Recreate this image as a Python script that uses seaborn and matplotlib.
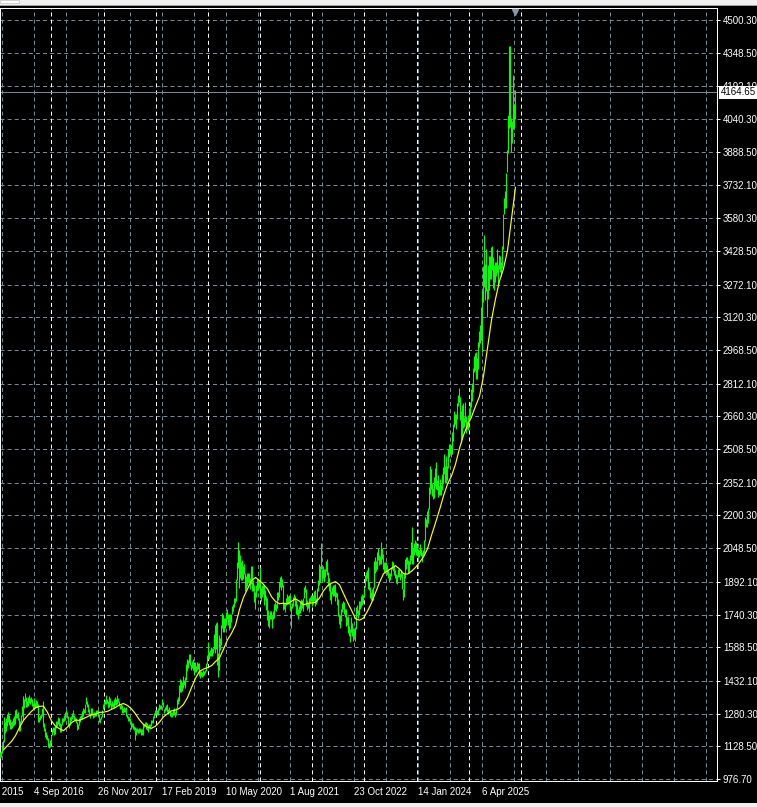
import numpy as np
import pandas as pd
import matplotlib
matplotlib.use("Agg")
import matplotlib.pyplot as plt
import matplotlib.transforms as mtransforms
from matplotlib.patches import Rectangle
import seaborn as sns

# ---------------- data (weekly bars) ----------------
first_week = "2016-01-10"

low_2016 = [1072,1080,1097,1111,1150,1191,1200,1225,1240,1227,1208,1208,1212,1225,1227,1230,1260,1260,1250,1200,1200,1240,1270,1250,1305,1340,1310,1310,1315,1330,1323,1335,1316,1302,1310,1305,1310,1310,1241,1241,1250,1260,1270,1220,1200,1172,1164,1157,1124,1122,1125]
high_2016 = [1100,1105,1128,1160,1263,1240,1260,1280,1287,1272,1255,1243,1245,1262,1270,1296,1303,1280,1286,1260,1245,1276,1315,1362,1350,1375,1357,1340,1357,1367,1355,1358,1347,1330,1352,1330,1343,1340,1325,1265,1275,1280,1308,1338,1235,1215,1195,1182,1165,1143,1160]
low_2017 = [1146,1180,1195,1180,1187,1215,1225,1230,1225,1194,1195,1226,1241,1244,1250,1277,1262,1226,1214,1226,1245,1256,1264,1250,1245,1238,1205,1208,1227,1242,1256,1255,1269,1281,1283,1323,1313,1287,1275,1260,1272,1276,1260,1263,1268,1270,1278,1271,1241,1236,1255,1264,1300]
high_2017 = [1180,1207,1220,1220,1225,1245,1245,1264,1262,1235,1233,1261,1260,1274,1289,1295,1290,1267,1236,1264,1271,1282,1296,1275,1263,1260,1242,1234,1258,1270,1275,1292,1306,1300,1325,1357,1337,1326,1300,1283,1306,1306,1284,1287,1290,1297,1299,1299,1280,1262,1268,1297,1326]
low_2018 = [1305,1323,1325,1330,1307,1312,1321,1302,1310,1310,1305,1322,1320,1325,1333,1316,1302,1302,1284,1281,1289,1290,1268,1260,1247,1247,1236,1211,1218,1207,1206,1160,1180,1195,1190,1190,1195,1180,1182,1182,1220,1221,1211,1206,1196,1213,1211,1221,1235,1236,1258]
high_2018 = [1340,1345,1366,1350,1341,1362,1355,1331,1340,1330,1350,1356,1346,1366,1353,1340,1322,1327,1320,1306,1310,1308,1310,1280,1270,1265,1260,1245,1236,1236,1222,1219,1215,1214,1207,1212,1212,1210,1208,1233,1234,1243,1240,1237,1226,1230,1230,1250,1252,1270,1285]
low_2019 = [1276,1277,1276,1276,1297,1302,1302,1320,1311,1281,1291,1296,1287,1280,1285,1270,1266,1266,1275,1273,1266,1273,1304,1325,1340,1382,1381,1386,1400,1411,1400,1437,1480,1491,1516,1504,1484,1490,1484,1458,1474,1474,1481,1487,1456,1445,1456,1452,1456,1458,1470,1476,1511]
high_2019 = [1298,1298,1298,1305,1326,1320,1322,1346,1332,1300,1311,1320,1324,1300,1310,1296,1289,1290,1300,1304,1290,1305,1348,1358,1411,1439,1437,1426,1453,1436,1449,1510,1535,1527,1555,1557,1512,1524,1535,1519,1519,1499,1518,1516,1515,1477,1477,1474,1485,1480,1485,1515,1553]
low_2020 = [1535,1536,1546,1550,1547,1560,1580,1562,1578,1504,1451,1484,1576,1600,1680,1660,1660,1680,1690,1718,1691,1670,1680,1705,1743,1757,1775,1794,1805,1900,1958,1863,1912,1902,1901,1906,1929,1849,1860,1873,1885,1889,1860,1880,1848,1850,1800,1764,1820,1850,1855,1865]
high_2020 = [1611,1564,1575,1590,1583,1585,1649,1690,1703,1704,1561,1645,1630,1690,1747,1738,1722,1722,1752,1765,1743,1745,1745,1745,1779,1789,1818,1817,1907,1984,2075,2039,2015,1986,1992,1966,1973,1935,1917,1933,1933,1932,1910,1965,1965,1900,1875,1847,1875,1906,1896,1900]
low_2021 = [1816,1802,1823,1837,1785,1810,1760,1717,1687,1676,1718,1720,1677,1721,1723,1763,1756,1771,1808,1823,1868,1855,1866,1761,1768,1750,1784,1791,1790,1789,1759,1677,1770,1779,1808,1782,1742,1737,1721,1745,1746,1760,1770,1758,1815,1843,1780,1762,1770,1753,1795,1805]
high_2021 = [1959,1864,1875,1875,1875,1855,1827,1815,1760,1740,1755,1755,1740,1758,1790,1798,1790,1845,1846,1890,1913,1917,1904,1878,1796,1796,1818,1834,1825,1832,1832,1780,1795,1823,1834,1827,1809,1788,1765,1781,1800,1814,1810,1818,1869,1877,1858,1808,1793,1815,1823,1832]
low_2022 = [1782,1790,1805,1780,1788,1800,1850,1878,1890,1950,1895,1910,1890,1915,1940,1925,1872,1850,1807,1787,1836,1828,1825,1805,1822,1784,1732,1697,1680,1711,1754,1765,1745,1727,1688,1690,1654,1640,1615,1660,1642,1617,1638,1617,1672,1747,1722,1740,1767,1775,1785,1795]
high_2022 = [1830,1830,1848,1853,1815,1865,1902,1974,1966,2070,1950,1966,1950,1950,1988,1998,1936,1910,1885,1850,1870,1875,1876,1880,1847,1840,1813,1745,1740,1767,1795,1805,1800,1765,1765,1728,1735,1688,1675,1730,1700,1680,1675,1682,1775,1786,1760,1804,1803,1825,1834,1833]
low_2023 = [1822,1866,1896,1910,1861,1852,1819,1809,1804,1809,1865,1934,1944,1950,1992,1970,1974,1976,2000,1952,1937,1932,1940,1925,1912,1893,1902,1920,1950,1942,1925,1910,1885,1884,1913,1914,1901,1913,1857,1810,1820,1908,1953,1973,1933,1931,1976,1993,1973,1973,2016,2030]
high_2023 = [1870,1922,1937,1949,1960,1890,1870,1845,1858,1870,1990,2009,1990,2032,2048,2015,2010,2079,2048,2022,1985,1983,1982,1972,1947,1935,1935,1963,1987,1983,1970,1948,1928,1925,1953,1953,1933,1947,1935,1860,1935,1997,2009,2008,1993,1988,2018,2075,2146,2047,2070,2088]
low_2024 = [2017,2013,2001,2009,2016,2014,1984,2010,2024,2080,2145,2146,2163,2228,2300,2325,2291,2277,2280,2335,2325,2320,2286,2293,2295,2293,2318,2352,2394,2353,2353,2364,2420,2470,2490,2472,2484,2546,2613,2624,2603,2650,2708,2725,2643,2537,2564,2605,2613,2632,2583,2602]
high_2024 = [2078,2062,2043,2041,2066,2044,2031,2041,2088,2195,2185,2223,2236,2330,2431,2417,2353,2326,2378,2422,2450,2364,2387,2336,2368,2340,2393,2424,2484,2432,2478,2431,2509,2531,2531,2529,2586,2626,2685,2670,2670,2722,2758,2790,2750,2686,2711,2721,2658,2726,2664,2640]
low_2025 = [2596,2645,2657,2702,2730,2772,2864,2876,2832,2832,2880,2982,3000,3015,2957,3193,3260,3202,3240,3120,3205,3245,3296,3300,3340,3255,3246,3283,3310,3325,3268,3345,3330,3312,3351,3436,3600,3628,3628,3793,3885,3999,4004,3886,3929,3995,4000,4040]
high_2025 = [2665,2698,2725,2786,2817,2886,2942,2955,2957,2930,3005,3057,3086,3167,3245,3357,3500,3368,3435,3252,3365,3403,3403,3446,3452,3398,3365,3375,3377,3439,3363,3409,3404,3379,3453,3600,3675,3707,3790,3897,4059,4380,4381,4046,4030,4245,4110,4175]

# 20-period moving average (yellow), read every 4th bar starting with the 4th
ma_values = [1112,1132,1151,1178,1216,1249,1271,1291,1307,1314,
             1315,1286,1246,1222,1210,1201,1218,1238,1250,1249,
             1257,1266,1275,1277,1286,1287,1291,1300,1309,1321,
             1327,1318,1302,1279,1251,1230,1217,1212,1222,1241,
             1265,1280,1293,1297,1305,1323,1355,1401,1444,1476,
             1487,1494,1503,1522,1539,1579,1623,1653,1691,1764,
             1820,1859,1898,1912,1898,1880,1859,1823,1801,1790,
             1793,1790,1802,1813,1802,1785,1792,1794,1797,1817,
             1850,1873,1886,1893,1878,1838,1797,1760,1721,1714,
             1724,1756,1794,1841,1889,1930,1943,1955,1967,1952,
             1930,1928,1941,1959,1982,2008,2045,2108,2166,2226,
             2291,2346,2384,2438,2512,2573,2619,2657,2707,2753,
             2847,2978,3108,3205,3289,3346,3430,3579,3724]

price_ticks = ["4500.30","4348.50","4192.10","4040.30","3888.50","3732.10",
               "3580.30","3428.50","3272.10","3120.30","2968.50","2812.10",
               "2660.30","2508.50","2352.10","2200.30","2048.50","1892.10",
               "1740.30","1588.50","1432.10","1280.30","1128.50","976.70"]
date_labels = ["14 Jun 2015","4 Sep 2016","26 Nov 2017","17 Feb 2019",
               "10 May 2020","1 Aug 2021","23 Oct 2022","14 Jan 2024","6 Apr 2025"]
last_price = 4164.65

# ---------------- frames ----------------
bar_low = (low_2016 + low_2017 + low_2018 + low_2019 + low_2020 + low_2021
           + low_2022 + low_2023 + low_2024 + low_2025)
bar_high = (high_2016 + high_2017 + high_2018 + high_2019 + high_2020 + high_2021
            + high_2022 + high_2023 + high_2024 + high_2025)
dates = pd.date_range(first_week, periods=len(bar_low), freq="W-SUN")
bars = pd.DataFrame({"date": dates, "low": bar_low, "high": bar_high})
ma_df = pd.DataFrame({"date": dates[3::4], "ma": ma_values})
label_dates = pd.to_datetime(date_labels, format="%d %b %Y")
price_vals = [float(p) for p in price_ticks]

# ---------------- style ----------------
sns.set_style("dark")
plt.rcParams.update({
    "font.family": ["Liberation Sans", "DejaVu Sans"],
    "font.size": 7,
    "lines.scale_dashes": False,
    "axes.grid": False,
})

W, H = 757, 807
GRID = "#778899"
DASH = (0, (2.9, 2.2))
PX = 0.72  # one pixel in points

fig = plt.figure(figsize=(W / 100, H / 100), dpi=100, facecolor="black")
ax = fig.add_axes([0, (H - 781) / H, 717 / W, (781 - 8) / H])
ax.set_facecolor("black")

week = pd.Timedelta(days=7)
ax.set_xlim(dates[0] - 0.5 * week, dates[0] + 716.5 * week)
ax.set_ylim(967.4, 4556.0)

# horizontal grid
for p in price_vals:
    ax.axhline(p, color=GRID, lw=PX, ls=DASH, zorder=1)
# vertical grid every 32 weeks
for k in range(0, 26):
    ax.axvline(label_dates[0] + k * 32 * week, color=GRID, lw=PX, ls=DASH, zorder=1)
# yearly period separators (first bar of each year)
for yr in range(2016, 2027):
    d = pd.offsets.Week(weekday=6).rollforward(pd.Timestamp(f"{yr}-01-01"))
    ax.axvline(d, color="white", lw=PX, ls=DASH, zorder=1.2)

# last price line
ax.axhline(last_price, color=GRID, lw=PX, zorder=1.5)

# bars
ax.vlines(bars["date"].values, bars["low"], bars["high"], color="#00ff00",
          lw=1.1 * PX, zorder=3)
# moving average
sns.lineplot(data=ma_df, x="date", y="ma", ax=ax, color="#ffff00", lw=0.85,
             zorder=4, legend=False)

# axes styling
for s in ax.spines.values():
    s.set_color("white")
    s.set_linewidth(PX)
ax.yaxis.tick_right()
ax.set_yticks(price_vals, price_ticks)
ax.set_xticks(label_dates[1:], date_labels[1:])
for t in ax.get_xticklabels():
    t.set_horizontalalignment("left")
ax.tick_params(colors="white", labelcolor="white", length=2.2, width=PX,
               labelsize=7)
ax.tick_params(axis="y", pad=2)
ax.tick_params(axis="x", pad=2.2)
ax.set_xlabel("")
ax.set_ylabel("")

# label partly off the left edge
ax.annotate(date_labels[0], xy=(label_dates[0], 0), xycoords=("data", "axes fraction"),
            xytext=(0, -4.4), textcoords="offset points", ha="left", va="top",
            color="white", fontsize=7, annotation_clip=False)

# last price label
blend = mtransforms.blended_transform_factory(ax.transAxes, ax.transData)
ax.text(1.0 + 3.5 / 717, last_price, f"{last_price:.2f}", transform=blend,
        ha="left", va="center", color="black", fontsize=7, zorder=10,
        clip_on=False,
        bbox=dict(boxstyle="square,pad=0.18", fc="white", ec="none"))

# chart-shift marker
blend2 = mtransforms.blended_transform_factory(ax.transData, ax.transAxes)
ax.plot([dates[-1]], [1 - 3.5 / 773], marker="v", ms=5, color="#8a96a6",
        transform=blend2, clip_on=False, zorder=6)

# window frame strips
fig.patches.append(Rectangle((0, 1 - 5 / H), 1, 5 / H, transform=fig.transFigure,
                             fc="#f0f0f0", ec="none"))
fig.patches.append(Rectangle((0, 1 - 6 / H), 1, 1.2 / H, transform=fig.transFigure,
                             fc="#a0a0a0", ec="none"))
fig.patches.append(Rectangle((0, 1 - 3 / H), 19 / W, 3 / H, transform=fig.transFigure,
                             fc="white", ec="#c0c0c0", lw=0.5))
fig.patches.append(Rectangle((0, 0), 1, 4 / H, transform=fig.transFigure,
                             fc="#f0f0f0", ec="none"))

fig.savefig("out.png", dpi=100, facecolor="black")
